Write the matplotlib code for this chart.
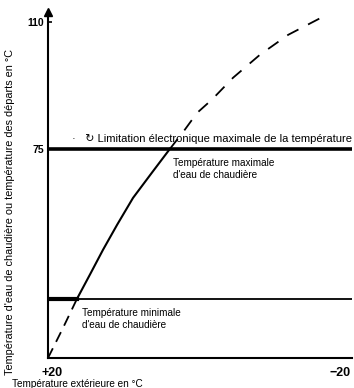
import matplotlib.pyplot as plt

plt.rcParams['font.family'] = ['Liberation Sans', 'DejaVu Sans']

# heating curve (outside temp, boiler temp)
low_x = [20, 18.0, 16.1]
low_y = [17.4, 25.6, 33.7]
mid_x = [16.1, 14.3, 12.6, 10.7, 8.56, 6.0, 3.6]
mid_y = [33.7, 40.6, 47.2, 54.1, 61.5, 68.5, 75]
high_x = [3.6, 1.8, -0.05, -2.07, -4.9, -8.5, -12.3, -17.0]
high_y = [75, 79.7, 84.9, 88.6, 94.6, 100.9, 106.4, 111.4]

t_max = 75
t_min = 33.7
y_ticks = [75, 110]

fig = plt.figure(figsize=(3.54, 3.88), dpi=100)
ax = fig.add_axes([48/354, 30/388, 304/354, 346/388])
ax.set_xlim(20, -20.9)
ax.set_ylim(17.4, 112.7)

ax.plot(low_x, low_y, color='black', lw=1.3, ls=(0, (6, 4)))
ax.plot(mid_x, mid_y, color='black', lw=1.5)
ax.plot(high_x, high_y, color='black', lw=1.3, ls=(0, (7, 6)))

ax.axhline(t_max, color='black', lw=2.6)
ax.axhline(t_min, color='black', lw=1.3)
ax.plot([20, low_x[-1]], [t_min, t_min], color='black', lw=3)

for s in ['top', 'right']:
    ax.spines[s].set_visible(False)
ax.spines['left'].set_linewidth(1.5)
ax.spines['bottom'].set_linewidth(1.5)
ax.plot([20], [112.7], marker='^', color='black', ms=6, clip_on=False)

ax.set_yticks(y_ticks)
ax.set_yticklabels([str(v) for v in y_ticks], fontsize=7.5, fontweight='bold')
ax.set_xticks([])
ax.tick_params(axis='y', direction='in', length=3, width=1.2, pad=3)
ax.text(19.4, 13.2, '+20', fontsize=9, fontweight='bold', ha='center', va='center')
ax.text(-19.3, 13.2, '\u221220', fontsize=9, fontweight='bold', ha='center', va='center')

ax.text(-20.9, 76.3, '\u00b7   \u21bb Limitation \u00e9lectronique maximale de la temp\u00e9rature',
        fontsize=8, ha='right', va='bottom')
ax.text(3.2, 72.5, 'Temp\u00e9rature maximale\nd\'eau de chaudi\u00e8re',
        fontsize=7.2, ha='left', va='top', linespacing=1.3)
ax.text(15.4, 31.2, 'Temp\u00e9rature minimale\nd\'eau de chaudi\u00e8re',
        fontsize=7.2, ha='left', va='top', linespacing=1.3)

fig.text(12/354, 1 - 384/388, 'Temp\u00e9rature ext\u00e9rieure en \u00b0C',
         fontsize=7.2, ha='left', va='center')
fig.text(10/354, 1 - 212/388,
         'Temp\u00e9rature d\'eau de chaudi\u00e8re ou temp\u00e9rature des d\u00e9parts en \u00b0C',
         fontsize=7.8, rotation=90, ha='center', va='center')

fig.savefig('out.png', dpi=100)
